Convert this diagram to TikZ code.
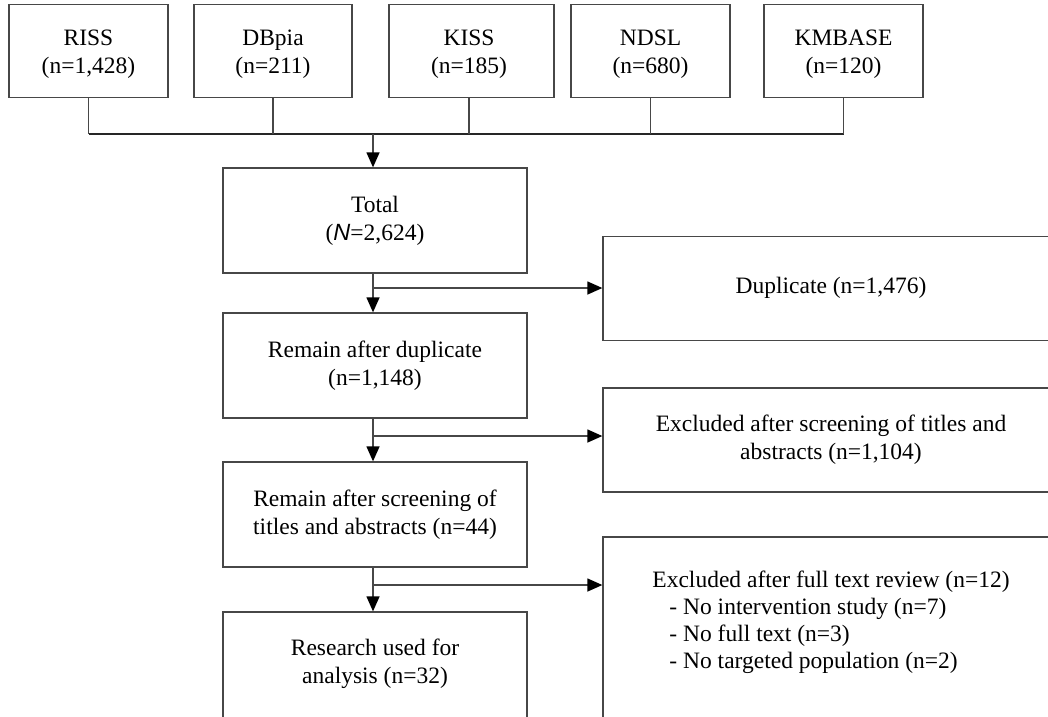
\documentclass[tikz,border=0pt]{standalone}
\usepackage{fontspec}
\setmainfont{Liberation Serif}
\newfontfamily\nsansfont{Liberation Sans}
\usetikzlibrary{arrows.meta}
\begin{document}
\begin{tikzpicture}[x=1pt,y=-1pt,
  box/.style={draw=black!72, line width=1.3pt, rectangle, inner sep=0pt},
  txt/.style={font=\fontsize{23.5}{28}\selectfont, align=center, inner sep=0pt},
  txtl/.style={font=\fontsize{23.5}{27}\selectfont, align=left, inner sep=0pt},
  conn/.style={draw=black!72, line width=1.3pt},
  arr/.style={conn, -{Triangle[length=15pt,width=13pt,color=black]}}]
\useasboundingbox (0,0) rectangle (1048,716);
\clip (0,0) rectangle (1048,716);
\fill[white] (0,0) rectangle (1048,716);

% source boxes
\node[box, minimum width=159pt, minimum height=93pt] (riss)   at (88.5,51) {};
\node[box, minimum width=158pt, minimum height=93pt] (dbpia)  at (273,51) {};
\node[box, minimum width=165pt, minimum height=93pt] (kiss)   at (471.5,51) {};
\node[box, minimum width=159pt, minimum height=93pt] (ndsl)   at (650.5,51) {};
\node[box, minimum width=159pt, minimum height=93pt] (kmbase) at (843.5,51) {};
\node[txt] (risst)   at (88.5,54)  {RISS\\(n=1,428)};
\node[txt] (dbpiat)  at (273,54)   {DBpia\\(n=211)};
\node[txt] (kisst)   at (469,54)   {KISS\\(n=185)};
\node[txt] (ndslt)   at (650.5,54) {NDSL\\(n=680)};
\node[txt] (kmbaset) at (843.5,54) {KMBASE\\(n=120)};

% main column
\node[box, minimum width=304pt, minimum height=105pt] (total) at (375,220.5) {};
\node[box, minimum width=304pt, minimum height=105pt] (remdup) at (375,365.5) {};
\node[box, minimum width=304pt, minimum height=105pt] (remscr) at (375,514.5) {};
\node[box, minimum width=304pt, minimum height=130pt] (research) at (375,677) {};
\node[txt] (totalt)  at (375,221) {Total\\({\nsansfont\itshape N}=2,624)};
\node[txt] (remdupt) at (375,366) {Remain after duplicate\\(n=1,148)};
\node[txt] (remscrt) at (375,514.5) {Remain after screening of\\titles and abstracts (n=44)};
\node[txt] (researcht) at (375,664) {Research used for\\analysis (n=32)};

% exclusion column
\node[box, minimum width=456pt, minimum height=104pt] (dupl) at (831,288.5) {};
\node[box, minimum width=456pt, minimum height=104pt] (excl1) at (831,440) {};
\node[box, minimum width=456pt, minimum height=200pt] (excl2) at (831,637) {};
\node[txt] (duplt)  at (831,288) {Duplicate (n=1,476)};
\node[txt] (excl1t) at (831,440) {Excluded after screening of titles and\\abstracts (n=1,104)};
\node[txtl] (excl2t) at (831,622) {Excluded after full text review (n=12)\\
\hspace*{17pt}- No intervention study (n=7)\\
\hspace*{17pt}- No full text (n=3)\\
\hspace*{17pt}- No targeted population (n=2)};

% bus
\coordinate (busL) at (88.5,134);
\coordinate (busR) at (843.5,134);
\coordinate (busM) at (373,134);
\draw[conn, draw=black!85] (busL) -- (busR);
\foreach \n in {riss,dbpia,ndsl,kmbase} \draw[conn] (\n.south) -- (\n.south |- busL);
\draw[conn] ([xshift=-2.5pt]kiss.south) -- ([xshift=-2.5pt]kiss.south |- busL);
\draw[arr] (busM) -- (busM |- total.north);

% main flow
\draw[arr] (total.south -| busM) -- (remdup.north -| busM);
\draw[arr] (remdup.south -| busM) -- (remscr.north -| busM);
\draw[arr] (remscr.south -| busM) -- (research.north -| busM);

% branches
\coordinate (b1) at (373,288);
\coordinate (b2) at (373,436);
\coordinate (b3) at (373,585);
\draw[arr] (b1) -- (b1 -| dupl.west);
\draw[arr] (b2) -- (b2 -| excl1.west);
\draw[arr] (b3) -- (b3 -| excl2.west);
\end{tikzpicture}
\end{document}
